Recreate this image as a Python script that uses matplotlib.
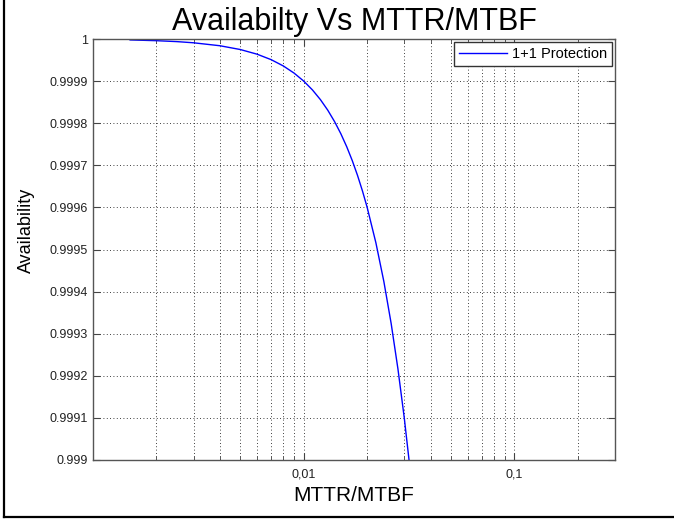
import matplotlib
matplotlib.use("Agg")
import matplotlib.pyplot as plt
from matplotlib.lines import Line2D
from matplotlib.ticker import FixedLocator, NullFormatter

# Data
ratio = [0.0015, 0.002, 0.0025, 0.003, 0.004, 0.005, 0.006, 0.007, 0.008, 0.009,
         0.010, 0.011, 0.012, 0.013, 0.014, 0.015, 0.016, 0.017, 0.018, 0.019,
         0.020, 0.022, 0.024, 0.026, 0.028, 0.030, 0.032]
availability = [0.9999978, 0.999996, 0.9999938, 0.999991, 0.999984, 0.999975, 0.999964,
                0.999951, 0.999936, 0.999919, 0.9999, 0.999879, 0.999856, 0.999831,
                0.999804, 0.999775, 0.999744, 0.999711, 0.999676, 0.999639, 0.9996,
                0.999516, 0.999424, 0.999324, 0.999216, 0.9991, 0.998976]
series_name = "1+1 Protection"
x_ticks = [0.01, 0.1]
x_tick_labels = ["0,01", "0,1"]
y_ticks = [0.999, 0.9991, 0.9992, 0.9993, 0.9994, 0.9995, 0.9996, 0.9997, 0.9998, 0.9999, 1.0]
y_tick_labels = ["0.999", "0.9991", "0.9992", "0.9993", "0.9994", "0.9995",
                 "0.9996", "0.9997", "0.9998", "0.9999", "1"]

plt.rcParams['font.family'] = ['Liberation Sans', 'DejaVu Sans']

W, H = 674, 523
fig = plt.figure(figsize=(W / 100, H / 100), dpi=100)
fig.patch.set_facecolor('white')
ax = fig.add_axes([93 / W, (H - 460) / H, (615 - 93) / W, (460 - 39) / H])

ax.plot(ratio, availability, color='#0000ff', lw=1.0, label=series_name)
ax.set_xscale('log')
ax.set_xlim(0.001, 0.3)
ax.set_ylim(0.999, 1.0)

ax.xaxis.set_major_locator(FixedLocator(x_ticks))
ax.set_xticklabels(x_tick_labels)
minor = [m * 10.0 ** e for e in (-3, -2, -1) for m in range(2, 10) if m * 10.0 ** e < 0.3]
ax.xaxis.set_minor_locator(FixedLocator(minor))
ax.xaxis.set_minor_formatter(NullFormatter())
ax.set_yticks(y_ticks)
ax.set_yticklabels(y_tick_labels)

ax.grid(True, which='both', axis='x', color='black', linestyle=(0, (1, 3)), lw=0.6)
ax.grid(True, which='major', axis='y', color='black', linestyle=(0, (1, 3)), lw=0.6)

ax.tick_params(which='both', direction='in', top=True, right=True,
               labelsize=9, labelcolor='#222222', color='#444444')
ax.tick_params(which='major', length=5)
ax.tick_params(which='minor', length=3)
ax.tick_params(axis='x', which='major', pad=6)
for s in ax.spines.values():
    s.set_color('#555555')
    s.set_linewidth(1.0)

ax.set_title("Availabilty Vs MTTR/MTBF", fontsize=22, pad=6.5)
ax.set_xlabel("MTTR/MTBF", fontsize=15, labelpad=4)
ax.set_ylabel("Availability", fontsize=13, labelpad=4)
ax.yaxis.set_label_coords(-0.112, 0.545)

leg = ax.legend(loc='upper right', fontsize=10.5, fancybox=False, framealpha=1,
                edgecolor='#333333', borderaxespad=0.2, handlelength=3.3,
                borderpad=0.35, handletextpad=0.3)
leg.get_frame().set_linewidth(1.0)

# figure frame (left and bottom border)
fig.add_artist(Line2D([4 / W, 4 / W], [(H - 517) / H, 1.0], transform=fig.transFigure,
                      color='black', lw=1.6))
fig.add_artist(Line2D([4 / W, 1.0], [(H - 517) / H, (H - 517) / H], transform=fig.transFigure,
                      color='black', lw=1.6))

fig.savefig("out.png", dpi=100)
